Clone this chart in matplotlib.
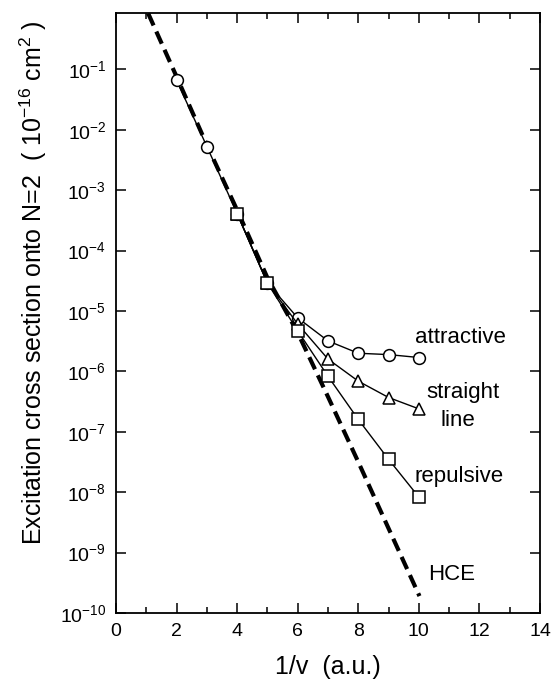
import matplotlib

matplotlib.use("Agg")
import matplotlib.pyplot as plt
from matplotlib.ticker import MultipleLocator, LogLocator, NullLocator
import numpy as np

plt.rcParams["font.family"] = ["Liberation Sans", "DejaVu Sans"]
plt.rcParams["mathtext.fontset"] = "custom"
plt.rcParams["mathtext.rm"] = "Liberation Sans"
plt.rcParams["mathtext.it"] = "Liberation Sans:italic"

# data
x_attr = [2, 3, 4, 5, 6, 7, 8, 9, 10]
y_attr = [6.6e-2, 5.3e-3, 4.1e-4, 2.9e-5, 7.7e-6, 3.2e-6, 2.0e-6, 1.9e-6, 1.7e-6]

x_str = [4, 5, 6, 7, 8, 9, 10]
y_str = [4.1e-4, 2.9e-5, 6.1e-6, 1.6e-6, 6.9e-7, 3.7e-7, 2.4e-7]

x_rep = [4, 5, 6, 7, 8, 9, 10]
y_rep = [4.1e-4, 2.9e-5, 4.7e-6, 8.3e-7, 1.6e-7, 3.5e-8, 8.3e-9]

x_hce = [1.06, 2, 3, 4, 5, 6, 7, 8, 9, 10.02]
log_hce = [-0.07, -1.12, -2.25, -3.33, -4.45, -5.36, -6.42, -7.5, -8.6, -9.72]
y_hce = 10.0 ** np.array(log_hce)

fig = plt.figure(figsize=(5.53, 6.85), dpi=100)
ax = fig.add_axes([0.2098, 0.1051, 0.7667, 0.8759])

ax.plot(x_hce, y_hce, color="black", lw=3.0, ls=(0, (3.2, 1.6)), zorder=2)

mk = dict(color="black", lw=1.0, markersize=8.5, markerfacecolor="white",
          markeredgecolor="black", markeredgewidth=1.1)
ax.plot(x_attr, y_attr, marker="o", zorder=3, **mk)
ax.plot(x_str, y_str, marker="^", zorder=4, **mk)
ax.plot(x_rep, y_rep, marker="s", zorder=5, **mk)

ax.set_yscale("log")
ax.set_xlim(0, 14)
ax.set_ylim(1e-10, 0.86)

ax.xaxis.set_major_locator(MultipleLocator(2))
ax.xaxis.set_minor_locator(MultipleLocator(1))
ax.yaxis.set_major_locator(LogLocator(base=10, numticks=20))
ax.yaxis.set_minor_locator(NullLocator())

ax.tick_params(which="both", direction="in", top=True, right=True, width=1.1)
ax.tick_params(which="major", length=7, labelsize=14, pad=7)
ax.tick_params(which="minor", length=4)
for sp in ax.spines.values():
    sp.set_linewidth(1.3)

ax.set_xlabel("1/v  (a.u.)", fontsize=18, labelpad=11)
ax.set_ylabel("Excitation cross section onto N=2  ( 10$^{-16}$ cm$^{2}$ )",
              fontsize=18, labelpad=8)
# label in the original sits a bit above the axis centre
ax.yaxis.label.set_y(0.55)

ax.text(9.87, 3.0e-6, "attractive", fontsize=16, ha="left", va="baseline")
ax.text(10.26, 3.6e-7, "straight", fontsize=16, ha="left", va="baseline")
ax.text(10.7, 1.26e-7, "line", fontsize=16, ha="left", va="baseline")
ax.text(9.84, 1.45e-8, "repulsive", fontsize=16, ha="left", va="baseline")
ax.text(10.3, 3.5e-10, "HCE", fontsize=16, ha="left", va="baseline")

fig.savefig("out.png", dpi=100)
